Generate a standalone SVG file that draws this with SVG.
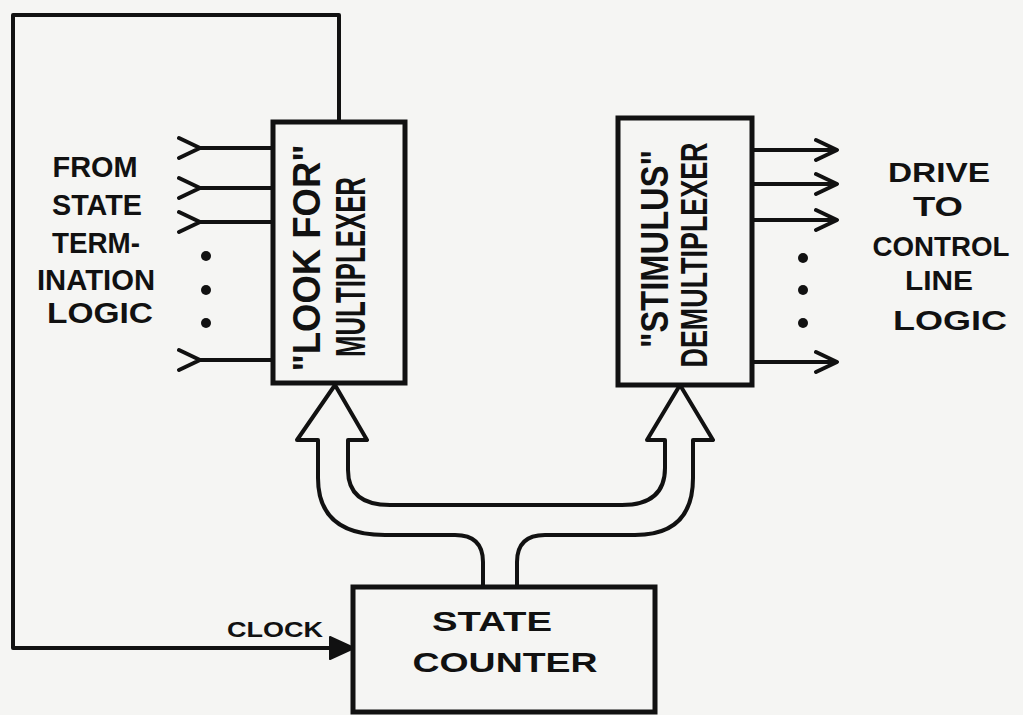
<svg xmlns="http://www.w3.org/2000/svg" width="1023" height="715" viewBox="0 0 1023 715">
<style>
.ln{fill:none;stroke:#111;stroke-width:4;stroke-linecap:round;stroke-linejoin:round}
.box{fill:none;stroke:#111;stroke-width:5}
.t{font-family:"Liberation Sans",Arial,sans-serif;font-weight:bold;fill:#111;text-anchor:middle}
.dot{fill:#111}
</style>
<rect width="1023" height="715" fill="#f5f5f3"/>

<g id="connectors">
<path class="ln" d="M339,122 V15 H13 V648 H336"/>
<path d="M330,637 L354,648 L330,659 Z" fill="#111" stroke="#111" stroke-width="2" stroke-linejoin="round"/>
<!-- inputs -->
<path class="ln" d="M179,138 L200,148 L179,158 M200,148 H273"/>
<path class="ln" d="M179,178 L200,188 L179,198 M200,188 H273"/>
<path class="ln" d="M179,212 L200,222 L179,232 M200,222 H273"/>
<path class="ln" d="M179,350 L200,360 L179,370 M200,360 H273"/>
<circle class="dot" cx="206" cy="256" r="5"/>
<circle class="dot" cx="206" cy="290" r="5"/>
<circle class="dot" cx="206" cy="323" r="5"/>
<!-- outputs -->
<path class="ln" d="M752,150 H836 M816,140 L837,150 L816,160"/>
<path class="ln" d="M752,184 H836 M816,174 L837,184 L816,194"/>
<path class="ln" d="M752,220 H836 M816,210 L837,220 L816,230"/>
<path class="ln" d="M752,362 H836 M816,352 L837,362 L816,372"/>
<circle class="dot" cx="803" cy="258" r="5"/>
<circle class="dot" cx="803" cy="290" r="5"/>
<circle class="dot" cx="803" cy="323" r="5"/>
<!-- bus -->
<path class="ln" d="M483,587 V562 Q483,535 455,535 H385 Q318,535 318,478 V440 H297 L335,385 L367,440 H348 V470 Q348,505 390,505 H622 Q665,505 665,468 V440 H647 L680,385 L713,440 H693 V478 Q693,535 635,535 H545 Q517,535 517,562 V587"/>
</g>

<g id="mux">
<rect class="box" x="273" y="122" width="132" height="261"/>
<text class="t" font-size="38" transform="translate(320,258) rotate(-90)" textLength="227" lengthAdjust="spacingAndGlyphs">"LOOK FOR"</text>
<text class="t" font-size="42" transform="translate(365,267) rotate(-90)" textLength="180" lengthAdjust="spacingAndGlyphs">MULTIPLEXER</text>
</g>

<g id="demux">
<rect class="box" x="618" y="118" width="134" height="267"/>
<text class="t" font-size="38" transform="translate(668,249) rotate(-90)" textLength="198" lengthAdjust="spacingAndGlyphs">"STIMULUS"</text>
<text class="t" font-size="36" transform="translate(707,255) rotate(-90)" textLength="225" lengthAdjust="spacingAndGlyphs">DEMULTIPLEXER</text>
</g>

<g id="counter">
<rect class="box" x="353" y="587" width="302" height="125"/>
<text class="t" font-size="28" x="492" y="631" textLength="120" lengthAdjust="spacingAndGlyphs">STATE</text>
<text class="t" font-size="28" x="505" y="672" textLength="185" lengthAdjust="spacingAndGlyphs">COUNTER</text>
</g>

<g id="source-label">
<text class="t" font-size="29" x="95" y="177" textLength="85" lengthAdjust="spacingAndGlyphs">FROM</text>
<text class="t" font-size="29" x="97" y="215" textLength="90" lengthAdjust="spacingAndGlyphs">STATE</text>
<text class="t" font-size="29" x="96" y="253" textLength="88" lengthAdjust="spacingAndGlyphs">TERM-</text>
<text class="t" font-size="29" x="96" y="290" textLength="118" lengthAdjust="spacingAndGlyphs">INATION</text>
<text class="t" font-size="29" x="100" y="323" textLength="106" lengthAdjust="spacingAndGlyphs">LOGIC</text>
</g>

<g id="drive-label">
<text class="t" font-size="27" x="939" y="182" textLength="102" lengthAdjust="spacingAndGlyphs">DRIVE</text>
<text class="t" font-size="27" x="938" y="216" textLength="50" lengthAdjust="spacingAndGlyphs">TO</text>
<text class="t" font-size="27" x="941" y="256" textLength="137" lengthAdjust="spacingAndGlyphs">CONTROL</text>
<text class="t" font-size="27" x="939" y="290" textLength="68" lengthAdjust="spacingAndGlyphs">LINE</text>
<text class="t" font-size="27" x="950" y="330" textLength="114" lengthAdjust="spacingAndGlyphs">LOGIC</text>
</g>

<g id="clock-label">
<text class="t" font-size="22" x="275" y="637" textLength="96" lengthAdjust="spacingAndGlyphs">CLOCK</text>
</g>
</svg>
